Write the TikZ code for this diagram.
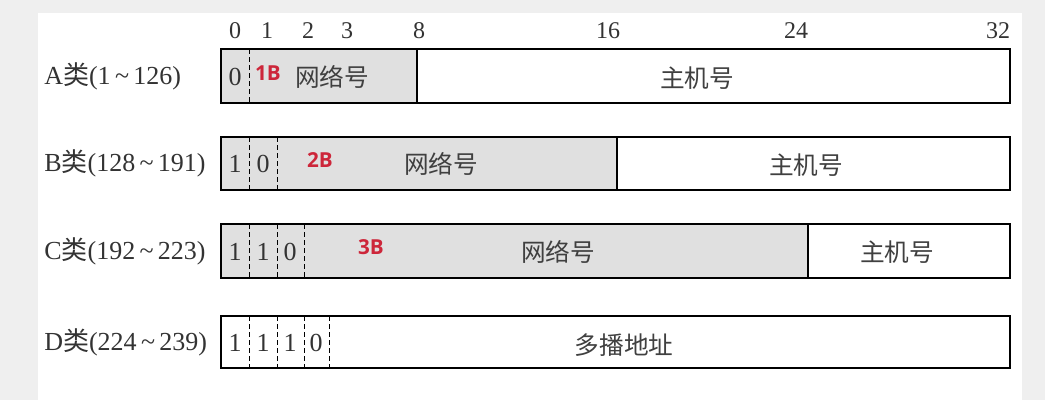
\documentclass[tikz,border=0pt]{standalone}
\usepackage{fontspec}
\setmainfont{Liberation Serif}
\newfontfamily\cjk{Noto Sans CJK SC}
\newfontfamily\tagfont{Open Sans}
\usepackage{tikz}
\definecolor{cellgray}{RGB}{224,224,224}
\definecolor{pagegray}{RGB}{239,239,239}
\definecolor{tagred}{RGB}{205,38,58}

\begin{document}
\begin{tikzpicture}[x=0.75pt,y=0.75pt,yscale=-1,xscale=1,
  lbl/.style={inner sep=0.75pt,text=black!80,font=\fontsize{19.5}{20}\selectfont},
  bitno/.style={inner sep=0.75pt,text=black!80,font=\fontsize{18}{18}\selectfont},
  field/.style={inner sep=0.75pt,text=black!75,font=\cjk\fontsize{18.5}{19}\selectfont},
  tag/.style={inner sep=0.75pt,text=tagred,font=\tagfont\bfseries\fontsize{15.5}{16}\selectfont},
  frame/.style={line width=1.6pt},
  cut/.style={line width=0.8pt},
  sep/.style={dash pattern=on 3.5pt off 2.5pt,line width=0.6pt}]
%set diagram size 1045 x 400
\fill[pagegray] (0,0) rectangle (1045,400);
\fill[white] (38,13) rectangle (1022,400);

%bit numbers
\foreach \n/\x in {0/235,1/267,2/308,3/347,8/419,16/608,24/796,32/998}
  \node[bitno] (bit\n) at (\x,31) {\n};

%Row A
\fill[cellgray] (221,49) rectangle (417,103);
\draw[cut] (417,49) -- (417,103);
\draw[sep] (249,49) -- (249,103);
\draw[frame] (221,49) rectangle (1010,103);
%Row B
\fill[cellgray] (221,137) rectangle (617,190);
\draw[cut] (617,137) -- (617,190);
\foreach \x in {249,277} \draw[sep] (\x,137) -- (\x,190);
\draw[frame] (221,137) rectangle (1010,190);
%Row C
\fill[cellgray] (221,224) rectangle (808,278);
\draw[cut] (808,224) -- (808,278);
\foreach \x in {249,277,304} \draw[sep] (\x,224) -- (\x,278);
\draw[frame] (221,224) rectangle (1010,278);
%Row D
\foreach \x in {249,277,304,329} \draw[sep] (\x,316) -- (\x,368);
\draw[frame] (221,316) rectangle (1010,368);

% Text Node
\node[lbl,anchor=west] (labA) at (43,76) {A{\cjk 类}(1\,\textasciitilde\,126)};
\node[lbl,anchor=west] (labB) at (43,163) {B{\cjk 类}(128\,\textasciitilde\,191)};
\node[lbl,anchor=west] (labC) at (43,251) {C{\cjk 类}(192\,\textasciitilde\,223)};
\node[lbl,anchor=west] (labD) at (43,342) {D{\cjk 类}(224\,\textasciitilde\,239)};

% Text Node
\node[lbl] (bitA1) at (235,77) {0};
\foreach \b/\x [count=\i] in {1/235,0/263} \node[lbl] (bitB\i) at (\x,164) {\b};
\foreach \b/\x [count=\i] in {1/235,1/263,0/290} \node[lbl] (bitC\i) at (\x,252) {\b};
\foreach \b/\x [count=\i] in {1/235,1/263,1/290,0/316} \node[lbl] (bitD\i) at (\x,343) {\b};

% Text Node
\node[tag] (tagA) at (268,73) {1B};
\node[tag] (tagB) at (320,160) {2B};
\node[tag] (tagC) at (371,247) {3B};

% Text Node
\node[field] (netA) at (332,77) {网络号};
\node[field] (hostA) at (697,78) {主机号};
\node[field] (netB) at (441,164) {网络号};
\node[field] (hostB) at (806,165) {主机号};
\node[field] (netC) at (558,252) {网络号};
\node[field] (hostC) at (897,252) {主机号};
\node[field] (mcastD) at (624,345) {多播地址};

\end{tikzpicture}
\end{document}
